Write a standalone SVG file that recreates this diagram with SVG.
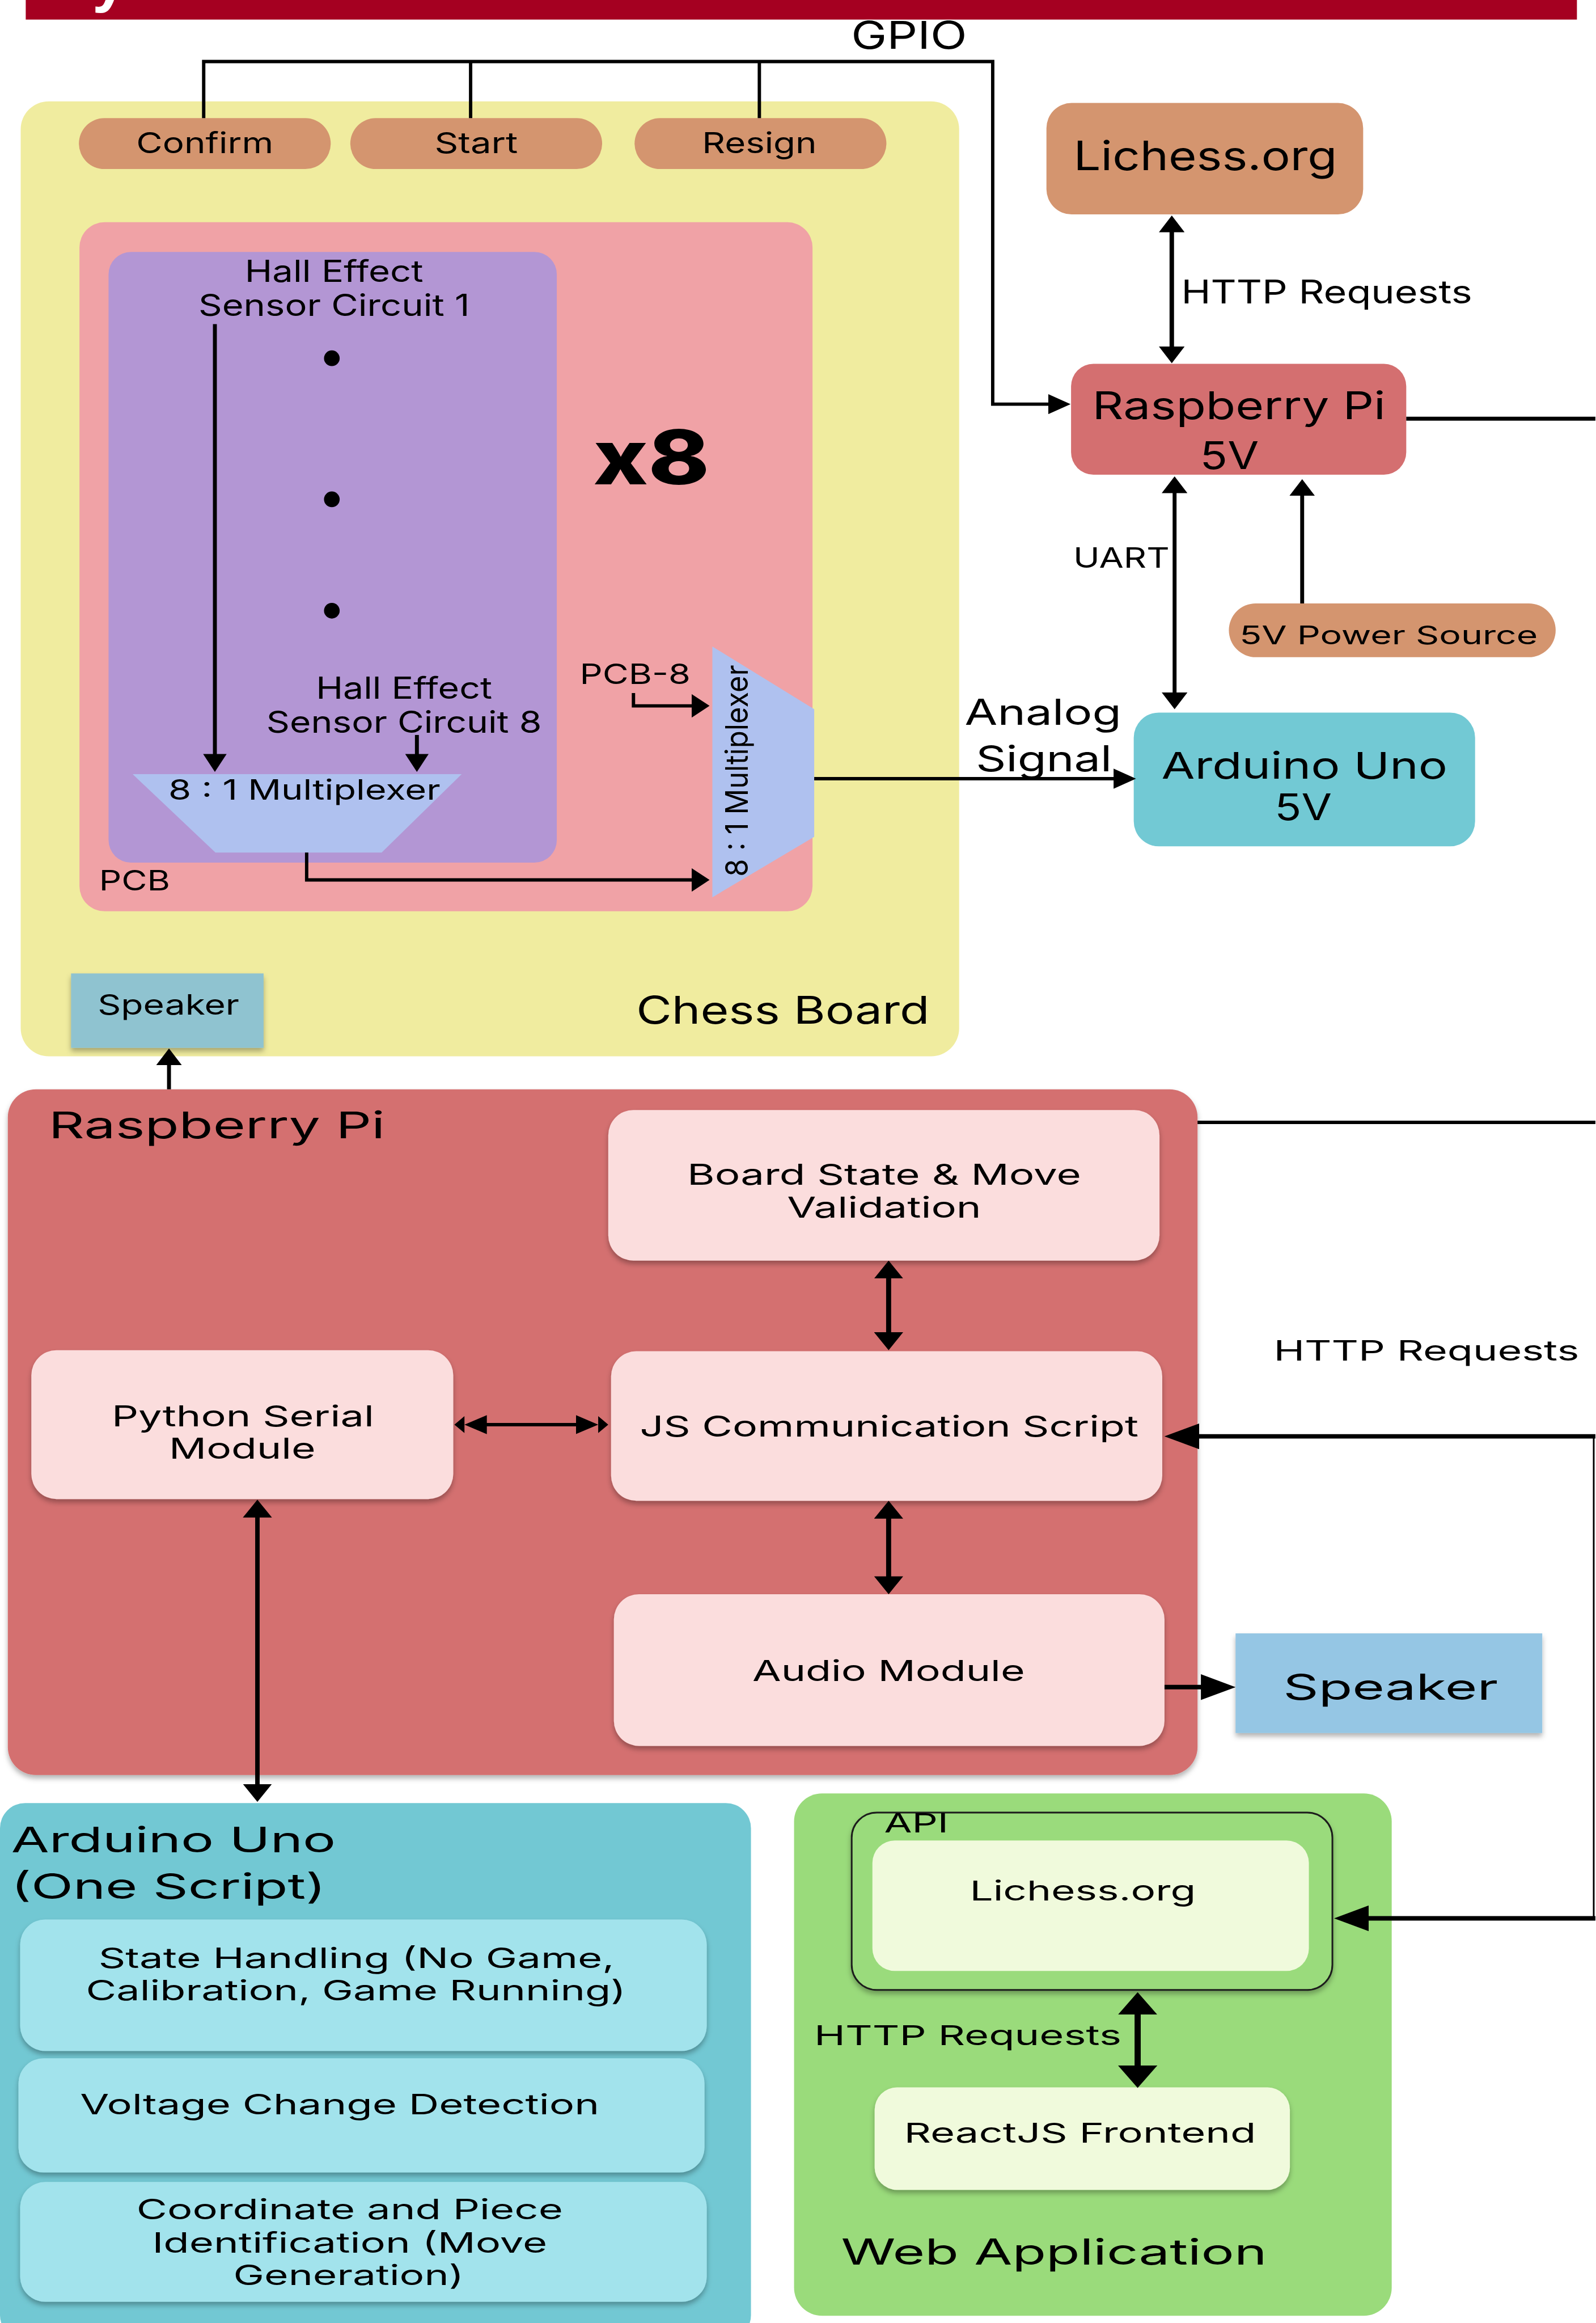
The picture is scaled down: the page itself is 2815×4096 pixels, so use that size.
<svg xmlns="http://www.w3.org/2000/svg" width="2815" height="4096" viewBox="0 0 2815 4096">
<style>
text{font-family:Inter,"Liberation Sans","DejaVu Sans",sans-serif;fill:#000}
.c{stroke:#000;fill:none}
.sh{filter:url(#sh)}
</style>
<defs>
<filter id="sh" x="-10%" y="-10%" width="120%" height="135%"><feDropShadow dx="0" dy="6" stdDeviation="5" flood-color="#000" flood-opacity="0.3"/></filter>
<marker id="a1" viewBox="0 0 32 42" refX="2" refY="21" markerWidth="32" markerHeight="42" markerUnits="userSpaceOnUse" orient="auto-start-reverse"><path d="M0,0 L32,21 L0,42 Z"/></marker>
<marker id="a2" viewBox="0 0 30 46" refX="2" refY="23" markerWidth="30" markerHeight="46" markerUnits="userSpaceOnUse" orient="auto-start-reverse"><path d="M0,0 L30,23 L0,46 Z"/></marker>
<marker id="a3" viewBox="0 0 40 36" refX="2" refY="18" markerWidth="40" markerHeight="36" markerUnits="userSpaceOnUse" orient="auto-start-reverse"><path d="M0,0 L40,18 L0,36 Z"/></marker>
<marker id="a4" viewBox="0 0 32 52" refX="2" refY="26" markerWidth="32" markerHeight="52" markerUnits="userSpaceOnUse" orient="auto-start-reverse"><path d="M0,0 L32,26 L0,52 Z"/></marker>
<marker id="a5" viewBox="0 0 62 46" refX="2" refY="23" markerWidth="62" markerHeight="46" markerUnits="userSpaceOnUse" orient="auto-start-reverse"><path d="M0,0 L62,23 L0,46 Z"/></marker>
<marker id="a6" viewBox="0 0 40 70" refX="2" refY="35" markerWidth="40" markerHeight="70" markerUnits="userSpaceOnUse" orient="auto-start-reverse"><path d="M0,0 L40,35 L0,70 Z"/></marker>
<marker id="a7" viewBox="0 0 58 34" refX="2" refY="17" markerWidth="58" markerHeight="34" markerUnits="userSpaceOnUse" orient="auto-start-reverse"><path d="M0,0 L40,17 L0,34 Z M40,2 L58,17 L40,32 Z"/></marker>
</defs>
<rect width="2815" height="4096" fill="#fff"/>
<g transform="scale(0.987)">
<g id="title-bar">
<rect x="46" y="0" width="2772" height="35" fill="#A50021"/>
<text x="165" y="0" font-size="110" font-weight="700" style="fill:#fff;font-family:'Liberation Sans',sans-serif">y</text>
</g>
<g id="chess-board">
<rect x="37" y="181" width="1677" height="1706" rx="50" fill="#F0EC9F"/>
<text x="1137" y="1829" font-size="68" textLength="524" lengthAdjust="spacingAndGlyphs">Chess Board</text>
</g>
<g id="btn-confirm"><rect x="141" y="211" width="450" height="91" rx="45.5" fill="#D4956F"/><text x="366" y="274" font-size="52" text-anchor="middle" textLength="245" lengthAdjust="spacingAndGlyphs">Confirm</text></g>
<g id="btn-start"><rect x="626" y="211" width="450" height="91" rx="45.5" fill="#D4956F"/><text x="851" y="274" font-size="52" text-anchor="middle" textLength="149" lengthAdjust="spacingAndGlyphs">Start</text></g>
<g id="btn-resign"><rect x="1134" y="211" width="450" height="91" rx="45.5" fill="#D4956F"/><text x="1357" y="274" font-size="52" text-anchor="middle" textLength="205" lengthAdjust="spacingAndGlyphs">Resign</text></g>
<g id="pcb">
<rect x="142" y="397" width="1310" height="1231" rx="45" fill="#F0A2A6"/>
<text x="177" y="1591" font-size="50" textLength="127" lengthAdjust="spacingAndGlyphs">PCB</text>
<text x="1060" y="865" font-size="135" font-weight="800" textLength="208" lengthAdjust="spacingAndGlyphs">x8</text>
<text x="1036" y="1222" font-size="50" textLength="198" lengthAdjust="spacingAndGlyphs">PCB-8</text>
</g>
<g id="sensor-block">
<rect x="194" y="450" width="801" height="1091" rx="40" fill="#B396D4"/>
<text x="597" y="504" font-size="54" text-anchor="middle" textLength="319" lengthAdjust="spacingAndGlyphs">Hall Effect</text>
<text x="597" y="564" font-size="54" text-anchor="middle" textLength="485" lengthAdjust="spacingAndGlyphs">Sensor Circuit 1</text>
<circle cx="593" cy="640" r="14"/>
<circle cx="593" cy="892" r="14"/>
<circle cx="593" cy="1091" r="14"/>
<text x="722" y="1248" font-size="54" text-anchor="middle" textLength="315" lengthAdjust="spacingAndGlyphs">Hall Effect</text>
<text x="722" y="1309" font-size="54" text-anchor="middle" textLength="492" lengthAdjust="spacingAndGlyphs">Sensor Circuit 8</text>
</g>
<g id="mux-8to1">
<polygon points="237,1383 825,1383 682,1523 385,1523" fill="#AFC1EF"/>
<text x="301" y="1429" font-size="50" textLength="486" lengthAdjust="spacingAndGlyphs">8 : 1 Multiplexer</text>
</g>
<g id="mux-pcb">
<polygon points="1273,1155 1455,1267 1455,1495 1273,1603" fill="#AFC1EF"/>
<text transform="translate(1336,1377) rotate(-90)" x="0" y="0" font-size="56" text-anchor="middle" textLength="378" lengthAdjust="spacingAndGlyphs">8 : 1 Multiplexer</text>
</g>
<g id="speaker-board">
<rect x="127" y="1739" width="344" height="133" fill="#8FC3D0" class="sh"/>
<text x="301" y="1813" font-size="50" text-anchor="middle" textLength="253" lengthAdjust="spacingAndGlyphs">Speaker</text>
</g>
<g id="gpio-label"><text x="1521" y="87" font-size="68" textLength="207" lengthAdjust="spacingAndGlyphs">GPIO</text></g>
<g id="lichess-top">
<rect x="1870" y="184" width="566" height="199" rx="45" fill="#D4956F"/>
<text x="2154" y="304" font-size="72" text-anchor="middle" textLength="471" lengthAdjust="spacingAndGlyphs">Lichess.org</text>
</g>
<g id="rpi-5v">
<rect x="1914" y="650" width="599" height="198" rx="40" fill="#D46F70"/>
<text x="2214" y="749" font-size="68" text-anchor="middle" textLength="524" lengthAdjust="spacingAndGlyphs">Raspberry Pi</text>
<text x="2197" y="838" font-size="68" text-anchor="middle" textLength="105" lengthAdjust="spacingAndGlyphs">5V</text>
</g>
<g id="power-5v">
<rect x="2196" y="1078" width="584" height="96" rx="48" fill="#D4956F"/>
<text x="2215" y="1151" font-size="46" textLength="533" lengthAdjust="spacingAndGlyphs">5V Power Source</text>
</g>
<g id="arduino-5v">
<rect x="2026" y="1273" width="610" height="239" rx="45" fill="#72C9D4"/>
<text x="2331" y="1391" font-size="66" text-anchor="middle" textLength="511" lengthAdjust="spacingAndGlyphs">Arduino Uno</text>
<text x="2329" y="1465" font-size="66" text-anchor="middle" textLength="102" lengthAdjust="spacingAndGlyphs">5V</text>
</g>
<g id="rpi-software">
<rect x="14" y="1946" width="2126" height="1225" rx="50" fill="#D47070" class="sh"/>
<text x="87" y="2033" font-size="66" textLength="601" lengthAdjust="spacingAndGlyphs">Raspberry Pi</text>
</g>
<g id="board-state">
<rect x="1087" y="1983" width="985" height="269" rx="45" fill="#FBDDDD" class="sh"/>
<text x="1580" y="2117" font-size="52" text-anchor="middle" textLength="704" lengthAdjust="spacingAndGlyphs">Board State &amp; Move</text>
<text x="1580" y="2175" font-size="52" text-anchor="middle" textLength="347" lengthAdjust="spacingAndGlyphs">Validation</text>
</g>
<g id="python-serial">
<rect x="56" y="2412" width="754" height="266" rx="45" fill="#FBDDDD" class="sh"/>
<text x="434" y="2548" font-size="52" text-anchor="middle" textLength="469" lengthAdjust="spacingAndGlyphs">Python Serial</text>
<text x="433" y="2606" font-size="52" text-anchor="middle" textLength="262" lengthAdjust="spacingAndGlyphs">Module</text>
</g>
<g id="js-comm">
<rect x="1092" y="2414" width="985" height="267" rx="45" fill="#FBDDDD" class="sh"/>
<text x="1589" y="2566" font-size="52" text-anchor="middle" textLength="891" lengthAdjust="spacingAndGlyphs">JS Communication Script</text>
</g>
<g id="audio-module">
<rect x="1097" y="2848" width="984" height="271" rx="45" fill="#FBDDDD" class="sh"/>
<text x="1588" y="3003" font-size="52" text-anchor="middle" textLength="487" lengthAdjust="spacingAndGlyphs">Audio Module</text>
</g>
<g id="speaker-right">
<rect x="2208" y="2918" width="548" height="178" fill="#95C6E4" class="sh"/>
<text x="2485" y="3036" font-size="64" text-anchor="middle" textLength="384" lengthAdjust="spacingAndGlyphs">Speaker</text>
</g>
<g id="http-label-right"><text x="2276" y="2431" font-size="50" textLength="546" lengthAdjust="spacingAndGlyphs">HTTP Requests</text></g>
<g id="arduino-software">
<rect x="0" y="3221" width="1342" height="960" rx="45" fill="#72C8D3"/>
<text x="20" y="3309" font-size="63" textLength="580" lengthAdjust="spacingAndGlyphs">Arduino Uno</text>
<text x="20" y="3392" font-size="63" textLength="562" lengthAdjust="spacingAndGlyphs">(One Script)</text>
</g>
<g id="state-handling">
<rect x="36" y="3429" width="1227" height="235" rx="45" fill="#A2E3EC" class="sh"/>
<text x="637" y="3516" font-size="50" text-anchor="middle" textLength="922" lengthAdjust="spacingAndGlyphs">State Handling (No Game,</text>
<text x="636" y="3573" font-size="50" text-anchor="middle" textLength="965" lengthAdjust="spacingAndGlyphs">Calibration, Game Running)</text>
</g>
<g id="voltage-detect">
<rect x="33" y="3677" width="1226" height="204" rx="45" fill="#A2E3EC" class="sh"/>
<text x="607" y="3777" font-size="50" text-anchor="middle" textLength="928" lengthAdjust="spacingAndGlyphs">Voltage Change Detection</text>
</g>
<g id="coord-ident">
<rect x="36" y="3898" width="1227" height="214" rx="45" fill="#A2E3EC" class="sh"/>
<text x="625" y="3965" font-size="50" text-anchor="middle" textLength="762" lengthAdjust="spacingAndGlyphs">Coordinate and Piece</text>
<text x="625" y="4024" font-size="50" text-anchor="middle" textLength="706" lengthAdjust="spacingAndGlyphs">Identification (Move</text>
<text x="623" y="4082" font-size="50" text-anchor="middle" textLength="412" lengthAdjust="spacingAndGlyphs">Generation)</text>
</g>
<g id="web-app">
<rect x="1419" y="3204" width="1068" height="933" rx="50" fill="#9ADB7B"/>
<text x="1503" y="4046" font-size="64" textLength="761" lengthAdjust="spacingAndGlyphs">Web Application</text>
<text x="1455" y="3653" font-size="49" textLength="549" lengthAdjust="spacingAndGlyphs">HTTP Requests</text>
</g>
<g id="api">
<rect x="1522" y="3238" width="859" height="317" rx="45" fill="#9ADB7B" stroke="#1a1a1a" stroke-width="3" class="sh"/>
<text x="1580" y="3274" font-size="47" textLength="115" lengthAdjust="spacingAndGlyphs">API</text>
</g>
<g id="lichess-api">
<rect x="1559" y="3288" width="780" height="233" rx="40" fill="#F0FADC"/>
<text x="1935" y="3395" font-size="49" text-anchor="middle" textLength="404" lengthAdjust="spacingAndGlyphs">Lichess.org</text>
</g>
<g id="react-frontend">
<rect x="1563" y="3729" width="742" height="183" rx="40" fill="#F0FADC" class="sh"/>
<text x="1930" y="3828" font-size="49" text-anchor="middle" textLength="629" lengthAdjust="spacingAndGlyphs">ReactJS Frontend</text>
</g>
<g id="connector-labels">
<text x="2111" y="542" font-size="58" textLength="520" lengthAdjust="spacingAndGlyphs">HTTP Requests</text>
<text x="1918" y="1014" font-size="50" textLength="172" lengthAdjust="spacingAndGlyphs">UART</text>
<text x="1724" y="1295" font-size="64" textLength="280" lengthAdjust="spacingAndGlyphs">Analog</text>
<text x="1744" y="1378" font-size="64" textLength="243" lengthAdjust="spacingAndGlyphs">Signal</text>
</g>
<g id="connectors">
<path class="c" stroke-width="6" d="M364,211 V110 H1774 V722 H1875" marker-end="url(#a3)"/>
<path class="c" stroke-width="6" d="M841,110 V211 M1357,110 V211"/>
<path class="c" stroke-width="8" d="M2094,413 V621" marker-start="url(#a2)" marker-end="url(#a2)"/>
<path class="c" stroke-width="7" d="M2513,748 H2851"/>
<path class="c" stroke-width="7" d="M2099,879 V1239" marker-start="url(#a2)" marker-end="url(#a2)"/>
<path class="c" stroke-width="7" d="M2327,1078 V884" marker-end="url(#a2)"/>
<path class="c" stroke-width="6" d="M1455,1391 H1992" marker-end="url(#a3)"/>
<path class="c" stroke-width="7" d="M384,579 V1349" marker-end="url(#a1)"/>
<path class="c" stroke-width="7" d="M745,1313 V1349" marker-end="url(#a1)"/>
<path class="c" stroke-width="6" d="M548,1523 V1572 H1238" marker-end="url(#a1)"/>
<path class="c" stroke-width="6" d="M1132,1238 V1261 H1238" marker-end="url(#a1)"/>
<path class="c" stroke-width="7" d="M302,1946 V1901" marker-end="url(#a2)"/>
<path class="c" stroke-width="9" d="M1588,2282 V2382" marker-start="url(#a4)" marker-end="url(#a4)"/>
<path class="c" stroke-width="6" d="M868,2545 H1031" marker-start="url(#a7)" marker-end="url(#a7)"/>
<path class="c" stroke-width="9" d="M1588,2711 V2818" marker-start="url(#a4)" marker-end="url(#a4)"/>
<path class="c" stroke-width="8" d="M460,2709 V3189" marker-start="url(#a4)" marker-end="url(#a4)"/>
<path class="c" stroke-width="8" d="M2081,3014 H2148" marker-end="url(#a5)"/>
<path class="c" stroke-width="6" d="M2140,2005 H2851"/>
<path class="c" stroke-width="8" d="M2851,2566 H2141" marker-end="url(#a5)"/>
<path class="c" stroke-width="3" d="M2848,2566 V3427"/>
<path class="c" stroke-width="8" d="M2851,3427 H2444" marker-end="url(#a5)"/>
<path class="c" stroke-width="11" d="M2033,3597 V3692" marker-start="url(#a6)" marker-end="url(#a6)"/>
</g>
</g>
</svg>
